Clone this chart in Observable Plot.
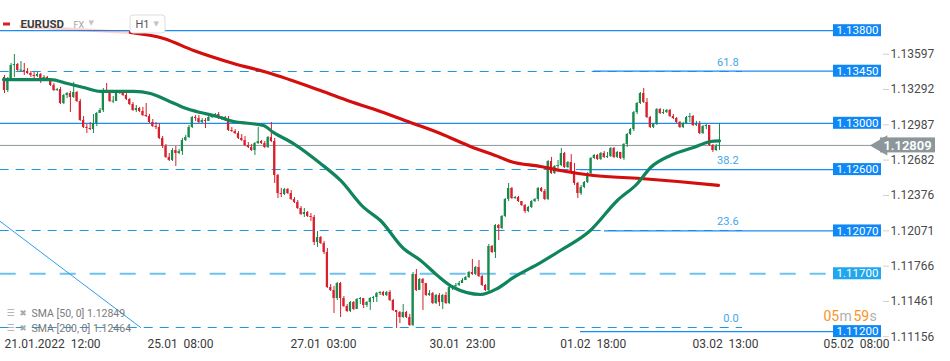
<!DOCTYPE html>
<html><head><meta charset="utf-8">
<script src="https://cdn.jsdelivr.net/npm/d3@7"></script>
<script src="https://cdn.jsdelivr.net/npm/@observablehq/plot@0.6"></script>
<style>
html,body{margin:0;padding:0;background:#fff;}
#chart svg{display:block;}
</style></head><body><div id="chart"></div>
<script>
// ---- data (EURUSD H1) ----
const firstOpen = 1.13396;
const close = [
1.13283,1.13370,1.13499,1.13508,1.13456,1.13456,1.13448,1.13430,1.13413,1.13404,
1.13422,1.13361,1.13396,1.13370,1.13327,1.13283,1.13292,1.13171,1.13240,1.13257,
1.13223,1.13266,1.13188,1.13024,1.12964,1.12955,1.12946,1.12998,1.13085,1.13111,
1.13283,1.13266,1.13188,1.13188,1.13275,1.13266,1.13240,1.13206,1.13162,1.13111,
1.13128,1.13102,1.13067,1.13059,1.13007,1.12972,1.12964,1.12869,1.12800,1.12705,
1.12679,1.12765,1.12739,1.12756,1.12851,1.12877,1.12964,1.13050,1.13041,1.13007,
1.13024,1.13016,1.13050,1.13059,1.13076,1.13041,1.13050,1.13024,1.12938,1.12929,
1.12912,1.12869,1.12851,1.12808,1.12791,1.12765,1.12825,1.12843,1.12825,1.12791,
1.12877,1.12843,1.12549,1.12393,1.12385,1.12428,1.12393,1.12342,1.12316,1.12264,
1.12212,1.12229,1.12195,1.12186,1.11970,1.12013,1.11961,1.11884,1.11581,1.11555,
1.11486,1.11616,1.11486,1.11417,1.11374,1.11452,1.11391,1.11478,1.11486,1.11426,
1.11452,1.11486,1.11495,1.11529,1.11538,1.11512,1.11538,1.11469,1.11383,1.11365,
1.11322,1.11365,1.11322,1.11253,1.11694,1.11555,1.11650,1.11616,1.11512,1.11529,
1.11443,1.11512,1.11452,1.11512,1.11443,1.11581,1.11590,1.11599,1.11616,1.11642,
1.11668,1.11711,1.11694,1.11754,1.11676,1.11599,1.11555,1.11936,1.11884,1.12117,
1.12091,1.12195,1.12342,1.12437,1.12350,1.12359,1.12324,1.12290,1.12238,1.12273,
1.12324,1.12342,1.12437,1.12411,1.12342,1.12670,1.12566,1.12627,1.12635,1.12739,
1.12618,1.12661,1.12584,1.12480,1.12393,1.12445,1.12489,1.12566,1.12696,1.12722,
1.12687,1.12739,1.12705,1.12713,1.12782,1.12705,1.12748,1.12696,1.12817,1.12903,
1.12946,1.13093,1.13171,1.13257,1.13180,1.13050,1.12964,1.12990,1.13119,1.13085,
1.13093,1.13111,1.13059,1.13041,1.13007,1.12964,1.12998,1.13050,1.13059,1.12981,
1.12990,1.12912,1.12972,1.12981,1.12808,1.12765,1.12800,1.12809];
const high = [
1.13413,1.13396,1.13517,1.13594,1.13517,1.13534,1.13517,1.13473,1.13448,1.13439,
1.13439,1.13430,1.13413,1.13404,1.13387,1.13344,1.13301,1.13309,1.13249,1.13266,
1.13275,1.13353,1.13275,1.13206,1.13059,1.12990,1.13007,1.13076,1.13093,1.13128,
1.13301,1.13344,1.13283,1.13232,1.13283,1.13283,1.13275,1.13257,1.13214,1.13180,
1.13154,1.13137,1.13137,1.13171,1.13076,1.13033,1.13007,1.12998,1.12886,1.12817,
1.12739,1.12782,1.12800,1.12774,1.12869,1.12895,1.12981,1.13059,1.13067,1.13067,
1.13041,1.13041,1.13059,1.13067,1.13085,1.13093,1.13059,1.13059,1.13059,1.12964,
1.12946,1.12929,1.12903,1.12886,1.12834,1.12817,1.12834,1.12964,1.12851,1.12843,
1.12886,1.13007,1.12869,1.12558,1.12437,1.12437,1.12437,1.12419,1.12359,1.12333,
1.12281,1.12264,1.12238,1.12221,1.12203,1.12065,1.12022,1.11979,1.11918,1.11607,
1.11590,1.11625,1.11625,1.11504,1.11434,1.11460,1.11460,1.11486,1.11495,1.11478,
1.11460,1.11495,1.11504,1.11538,1.11547,1.11547,1.11547,1.11555,1.11478,1.11383,
1.11374,1.11434,1.11374,1.11348,1.11711,1.11737,1.11659,1.11659,1.11607,1.11555,
1.11538,1.11521,1.11529,1.11521,1.11538,1.11590,1.11599,1.11616,1.11633,1.11659,
1.11676,1.11720,1.11823,1.11763,1.11815,1.11685,1.11607,1.11953,1.11944,1.12126,
1.12126,1.12203,1.12350,1.12480,1.12445,1.12368,1.12368,1.12324,1.12298,1.12281,
1.12333,1.12350,1.12445,1.12445,1.12428,1.12679,1.12705,1.12635,1.12679,1.12782,
1.12748,1.12670,1.12730,1.12653,1.12489,1.12463,1.12497,1.12575,1.12705,1.12730,
1.12730,1.12748,1.12756,1.12748,1.12791,1.12791,1.12756,1.12748,1.12825,1.12912,
1.12955,1.13102,1.13180,1.13266,1.13301,1.13214,1.13059,1.12998,1.13128,1.13128,
1.13119,1.13119,1.13119,1.13076,1.13050,1.13016,1.13007,1.13059,1.13085,1.13067,
1.13016,1.13016,1.12981,1.12990,1.12981,1.12817,1.12817,1.12998];
const low = [
1.13257,1.13266,1.13370,1.13396,1.13448,1.13439,1.13413,1.13422,1.13396,1.13387,
1.13396,1.13344,1.13361,1.13361,1.13318,1.13275,1.13275,1.13162,1.13162,1.13214,
1.13093,1.13214,1.13180,1.13016,1.12955,1.12912,1.12938,1.12912,1.12972,1.13085,
1.13093,1.13257,1.13180,1.13171,1.13188,1.13249,1.13232,1.13197,1.13154,1.13102,
1.13093,1.13093,1.13059,1.13050,1.12998,1.12964,1.12946,1.12860,1.12782,1.12696,
1.12670,1.12670,1.12627,1.12730,1.12722,1.12843,1.12869,1.12955,1.13016,1.12998,
1.12990,1.12955,1.13016,1.13041,1.13050,1.13033,1.13024,1.13016,1.12929,1.12921,
1.12903,1.12860,1.12843,1.12800,1.12782,1.12756,1.12722,1.12817,1.12817,1.12782,
1.12782,1.12834,1.12480,1.12350,1.12359,1.12376,1.12385,1.12333,1.12307,1.12255,
1.12203,1.12186,1.12186,1.12152,1.11944,1.11927,1.11953,1.11866,1.11573,1.11547,
1.11357,1.11469,1.11322,1.11409,1.11365,1.11365,1.11383,1.11391,1.11434,1.11400,
1.11409,1.11383,1.11452,1.11452,1.11512,1.11504,1.11504,1.11460,1.11374,1.11227,
1.11270,1.11313,1.11313,1.11244,1.11244,1.11547,1.11564,1.11383,1.11504,1.11504,
1.11434,1.11434,1.11417,1.11391,1.11434,1.11434,1.11555,1.11573,1.11590,1.11616,
1.11642,1.11659,1.11685,1.11685,1.11668,1.11590,1.11547,1.11538,1.11875,1.11832,
1.11987,1.12082,1.12186,1.12324,1.12342,1.12342,1.12316,1.12281,1.12221,1.12229,
1.12264,1.12316,1.12324,1.12402,1.12333,1.12333,1.12558,1.12558,1.12609,1.12627,
1.12609,1.12609,1.12575,1.12463,1.12350,1.12376,1.12437,1.12480,1.12558,1.12687,
1.12679,1.12679,1.12696,1.12696,1.12705,1.12696,1.12696,1.12687,1.12679,1.12791,
1.12895,1.12929,1.13076,1.13162,1.13171,1.13041,1.12955,1.12955,1.12981,1.13076,
1.13076,1.13085,1.13050,1.13033,1.12998,1.12955,1.12955,1.12990,1.13007,1.12972,
1.12972,1.12903,1.12903,1.12946,1.12800,1.12748,1.12756,1.12765];

// moving averages (bar index, price)
const sma50Idx = [-0.3,3.9,14.0,19.1,24.0,29.1,39.2,44.3,49.5,54.3,59.5,64.6,69.5,74.7,78.6,81.6,87.7,95.9,102.0,109.0,114.1,121.1,126.3,131.4,136.3,144.5,149.6,154.5,162.7,168.7,177.8,186.0,192.1,196.1,202.1,209.1,214.3,217.0];
const sma50Val = [1.13378,1.13378,1.13378,1.13344,1.13309,1.13275,1.13275,1.13257,1.13197,1.13137,1.13093,1.13059,1.13016,1.12998,1.12981,1.12921,1.12825,1.12653,1.12506,1.12273,1.12160,1.11918,1.11815,1.11685,1.11581,1.11521,1.11573,1.11668,1.11797,1.11901,1.12074,1.12333,1.12480,1.12618,1.12722,1.12791,1.12843,1.12849];
const sma200Idx = [4.9,38.2,48.3,57.4,69.5,79.8,95.9,105.0,114.1,123.2,132.3,141.4,150.5,153.6,162.7,168.7,178.8,193.0,204.3,216.7];
const sma200Val = [1.13836,1.13785,1.13733,1.13629,1.13517,1.13439,1.13283,1.13188,1.13102,1.13007,1.12912,1.12800,1.12705,1.12670,1.12627,1.12592,1.12549,1.12523,1.12497,1.12464];

const yTicks = [1.13597,1.13292,1.12987,1.12682,1.12376,1.12071,1.11766,1.11461,1.11156];
const timeTickIdx = [0,43.4,86.8,129.0,168.7,208.8,248.6];
const timeTickLabels = ["21.01.2022  12:00","25.01  08:00","27.01  03:00","30.01  23:00","01.02  18:00","03.02  13:00","05.02  08:00"];

const levelValues = [1.13800,1.13450,1.13000,1.12600,1.12070,1.11700,1.11200];
const levelStartIdx = [-1.3,178.8,-1.3,174.8,182.1,-1.3,174.8];
const levelEndIdx = 251.6;
const fibLabels = ["61.8","38.2","23.6","0.0"];
const fibValues = [1.13448,1.12601,1.12074,1.11236];
const fibStartIdx = -1.3, fibEndIdx = 224.0;
const trendIdx = [-1.3,41.3];
const trendVal = [1.12152,1.11236];
const lastPrice = 1.12809;
const sma50Last = 1.12849, sma200Last = 1.12464;

// ---- build ----
const UP = "#178a4c", DN = "#d81f2b";
const candles = close.map((c, i) => {
  const o = i === 0 ? firstOpen : close[i - 1]; // hourly FX bars open at the previous close
  let b1 = o, b2 = c;
  if (Math.abs(c - o) < 0.00009) { const m = (c + o) / 2; b1 = m - 0.000045; b2 = m + 0.000045; }
  return {i, o, c, h: high[i], l: low[i], b1, b2, col: c >= o ? UP : DN};
});
const N = close.length;
const sma50 = sma50Idx.map((i, k) => ({i, v: sma50Val[k]}));
const sma200 = sma200Idx.map((i, k) => ({i, v: sma200Val[k]}));
const sma200Faded = sma200.filter(d => d.i <= 38.2);
const sma200Main = sma200.filter(d => d.i >= 38.2);
const levels = levelValues.map((v, k) => ({v, x1: levelStartIdx[k], x2: levelEndIdx, light: v === 1.117}));
const fibs = fibValues.map((v, k) => ({v, label: fibLabels[k], x1: fibStartIdx, x2: fibEndIdx}));
const trend = trendIdx.map((i, k) => ({i, v: trendVal[k]}));
const times = timeTickIdx.map((i, k) => ({i, label: timeTickLabels[k].replace(/ /g, "\u00a0")}));

const FONT = "Roboto, 'Open Sans', 'DejaVu Sans', sans-serif";
const MR = 68; // right margin for the price axis
const frameR = 950 - MR;
const frameRect = (opts) => Plot.rect([0], opts);
const tl = (txt, dx, dy, opts) => Plot.text([txt], {frameAnchor: "top-left", dx, dy, textAnchor: "start", lineAnchor: "middle", ...opts});

const chart = Plot.plot({
  width: 950, height: 361,
  marginLeft: 0, marginRight: MR, marginTop: 0, marginBottom: 0,
  style: {fontFamily: FONT, background: "#fff", overflow: "visible"},
  x: {domain: [0, N - 1], range: [4, 719], axis: null},
  y: {domain: [1.10942, 1.14061], range: [361, 0], axis: null},
  marks: [
    // fibonacci dashed lines
    Plot.ruleY(fibs, {y: "v", x1: "x1", x2: "x2", stroke: "#1f95e4", strokeWidth: 1.1, strokeDasharray: "9,7"}),
    Plot.text(fibs, {x: "x2", y: "v", text: "label", textAnchor: "end", dx: -4, dy: -9, fill: "#3ea7ea", fontSize: 11}),
    // horizontal levels
    Plot.ruleY(levels.filter(d => !d.light), {y: "v", x1: "x1", x2: "x2", stroke: "#1a8cf5", strokeWidth: 1.2}),
    Plot.ruleY(levels.filter(d => d.light), {y: "v", x1: "x1", x2: "x2", stroke: "#6cc2f0", strokeWidth: 2, strokeDasharray: "16,14"}),
    // last price line
    Plot.ruleY([lastPrice], {stroke: "#8c969b", strokeWidth: 1}),
    // trend line
    Plot.line(trend, {x: "i", y: "v", stroke: "#2aa0ee", strokeWidth: 1}),
    // candles
    Plot.ruleX(candles, {x: "i", y1: "l", y2: "h", stroke: "col", strokeWidth: 1}),
    Plot.rect(candles, {x1: d => d.i - 0.34, x2: d => d.i + 0.34, y1: "b1", y2: "b2", fill: "col"}),
    // SMAs
    Plot.line(sma200Faded, {x: "i", y: "v", stroke: "#d40d0d", strokeWidth: 3, strokeOpacity: 0.18, curve: "monotone-x"}),
    Plot.line(sma200Main, {x: "i", y: "v", stroke: "#d40d0d", strokeWidth: 3.2, curve: "monotone-x"}),
    Plot.line(sma50, {x: "i", y: "v", stroke: "#10845a", strokeWidth: 3.2, curve: "monotone-x"}),
    // price axis on the right
    Plot.axisY({anchor: "right", ticks: yTicks, tickFormat: d => d.toFixed(5), tickSize: 6, tickPadding: 2, fontSize: 12, stroke: "#d0d0d0", fill: "#4a4a4a"}),
    // level label boxes
    Plot.rect(levels, {y1: "v", y2: "v", insetTop: -6, insetBottom: -6, insetLeft: 833, insetRight: 1, fill: d => d.light ? "#22a6ec" : "#0f88f5"}),
    Plot.text(levels, {y: "v", text: d => d.v.toFixed(5), frameAnchor: "right", dx: -25, textAnchor: "middle", fill: "#fff", fontSize: 11.5}),
    // last price box
    Plot.rect([lastPrice], {y1: d => d, y2: d => d, insetTop: -7.5, insetBottom: -7.5, insetLeft: 880, insetRight: -53, fill: "#8c969b"}),
    Plot.dot([lastPrice], {y: d => d, frameAnchor: "right", dx: -1, symbol: "triangle", r: 7.5, rotate: -90, fill: "#8c969b"}),
    Plot.text([lastPrice], {y: d => d, text: d => d.toFixed(5), frameAnchor: "right", dx: 25, textAnchor: "middle", fill: "#fff", fontSize: 13, fontWeight: 600}),
    // time labels
    Plot.text(times, {x: "i", text: "label", frameAnchor: "bottom", dy: -17.5, textAnchor: "start", lineAnchor: "middle", fontSize: 12, fill: "#3a3a3a"}),
    // header
    frameRect({insetLeft: 3, insetRight: frameR - 10, insetTop: 22.5, insetBottom: 361 - 25.5, fill: "#d81f2b"}),
    tl("EURUSD", 20, 24, {fontSize: 11.5, fontWeight: 700, fill: "#3c3c3c"}),
    tl("FX", 73, 25, {fontSize: 9, fill: "#a0a0a0"}),
    tl("▼", 88, 22, {fontSize: 7, fill: "#c4c4c4"}),
    frameRect({insetLeft: 130, insetRight: frameR - 165, insetTop: 15, insetBottom: 361 - 33, fill: "#fff", stroke: "#dcdcdc", rx: 3}),
    tl("H1", 135, 24, {fontSize: 11, fill: "#555"}),
    tl("▼", 153, 23, {fontSize: 7, fill: "#c4c4c4"}),
    // SMA legend
    tl(`SMA [50, 0] ${sma50Last.toFixed(5)}`, 31, 313, {fontSize: 10.5, fill: "#7a7a7a"}),
    tl(`SMA [200, 0] ${sma200Last.toFixed(5)}`, 31, 328, {fontSize: 10.5, fill: "#7a7a7a"}),
    tl("☰", 6, 313, {fontSize: 9, fill: "#a8a8a8"}),
    tl("☰", 6, 328, {fontSize: 9, fill: "#a8a8a8"}),
    tl("✖", 19, 313, {fontSize: 8.5, fill: "#a8a8a8"}),
    tl("✖", 19, 328, {fontSize: 8.5, fill: "#a8a8a8"}),
    // countdown
    tl("05", 823, 316, {fontSize: 14, fill: "#f7941d"}),
    tl("m", 839, 316, {fontSize: 14, fill: "#b0b0b0"}),
    tl("59", 853, 316, {fontSize: 14, fill: "#f7941d"}),
    tl("s", 869, 316, {fontSize: 14, fill: "#b0b0b0"})
  ]
});
document.getElementById("chart").appendChild(chart);
</script>
</body></html>
